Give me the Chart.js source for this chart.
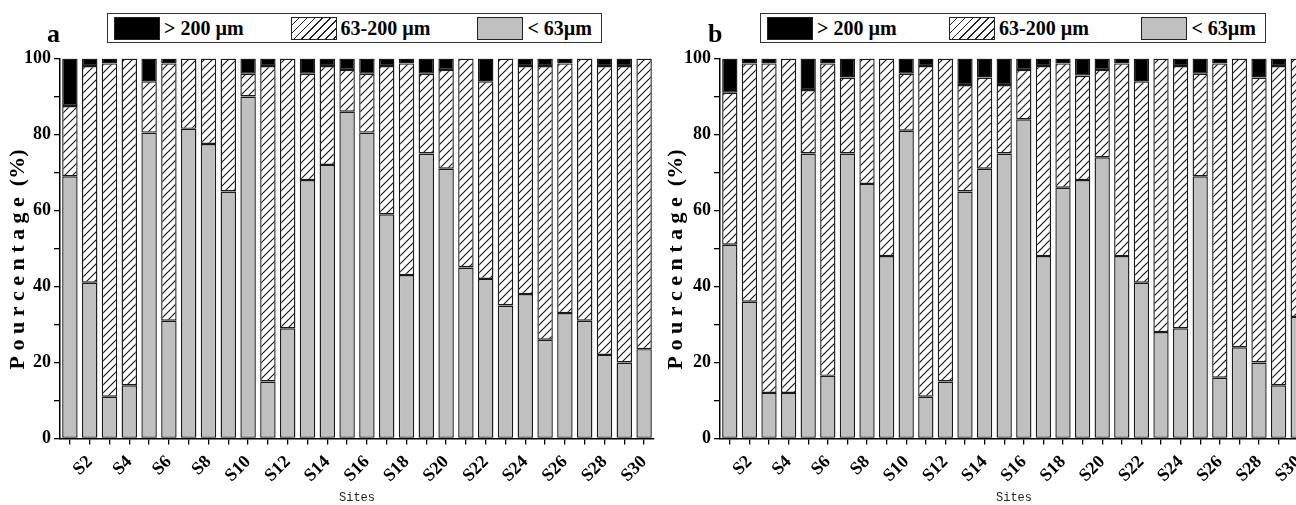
<!DOCTYPE html>
<html>
<head>
<meta charset="utf-8">
<script src="https://cdn.jsdelivr.net/npm/chart.js@4.4.1/dist/chart.umd.min.js"></script>
<style>
    body { margin: 0; background: #fff; overflow: hidden; }
    #wrap { position: relative; width: 1296px; height: 505px; overflow: hidden; }
    canvas { position: absolute; top: 0; }
    #chartA { left: 0; }
    #chartB { left: 658px; }
    .tag { position: absolute; top: 22px; font: bold 26px "Liberation Serif"; line-height: 24px; }
    .legend {
        position: absolute; top: 13px; height: 30px; box-sizing: border-box;
        border: 1.5px solid #333; background: #fff;
        display: flex; align-items: center; justify-content: space-between;
        padding: 0 9px 0 6px;
        font: bold 20px "Liberation Serif";
    }
    .item { display: flex; align-items: center; }
    .box { width: 46px; height: 23px; box-sizing: border-box; border: 1.3px solid #222; margin-right: 4px; }
</style>
</head>
<body>
<div id="wrap">
    <canvas id="chartA" width="656" height="505"></canvas>
    <canvas id="chartB" width="652" height="505"></canvas>
    <div class="tag" style="left:47px">a</div>
    <div class="tag" style="left:708px">b</div>
    <div class="legend" id="legendA" style="left:107px;width:495px"></div>
    <div class="legend" id="legendB" style="left:760px;width:506px"></div>
</div>
<script>
// categories
const sites = ["S1", "S2", "S3", "S4", "S5", "S6", "S7", "S8", "S9", "S10",
    "S11", "S12", "S13", "S14", "S15", "S16", "S17", "S18", "S19", "S20",
    "S21", "S22", "S23", "S24", "S25", "S26", "S27", "S28", "S29", "S30"];
const sizeClasses = ["< 63µm", "63-200 µm", "> 200 µm"];
const yTicks = [0, 20, 40, 60, 80, 100];

// panel a (%)
const fineA = [69, 41, 11, 14, 80.5, 31, 81.5, 77.5, 65, 90, 15, 29, 68, 72, 86,
    80.5, 59, 43, 75, 71, 45, 42, 35, 38, 26, 33, 31, 22, 20, 23.5];
const sandA = [18.5, 57, 87.7, 86, 13.5, 67.7, 18.5, 22.5, 35, 6, 83, 71, 28, 26, 11,
    15.5, 39, 55.7, 21, 26, 55, 52, 65, 60, 72, 65.7, 69, 76, 78, 76.5];
const coarseA = [12.5, 2, 1.3, 0, 6, 1.3, 0, 0, 0, 4, 2, 0, 4, 2, 3,
    4, 2, 1.3, 4, 3, 0, 6, 0, 2, 2, 1.3, 0, 2, 2, 0];

// panel b (%)
const fineB = [51, 36, 12, 12, 75, 16.5, 75, 67, 48, 81, 11, 15, 65, 71, 75,
    84, 48, 66, 68, 74, 48, 41, 28, 29, 69, 16, 24, 20, 14, 32];
const sandB = [40, 62.7, 86.7, 88, 16.7, 82.2, 20, 33, 52, 15, 87, 85, 28, 24, 18,
    13, 50, 32.7, 27.5, 23, 50.7, 53, 72, 69, 27, 82.7, 76, 75, 84, 68];
const coarseB = [9, 1.3, 1.3, 0, 8.3, 1.3, 5, 0, 0, 4, 2, 0, 7, 5, 7,
    3, 2, 1.3, 4.5, 3, 1.3, 6, 0, 2, 4, 1.3, 0, 5, 2, 0];

const GRAY = "#c0c0c0";
const EDGE = "#1a1a1a";

function makeHatch() {
    const c = document.createElement("canvas");
    c.width = 8;
    c.height = 8;
    const g = c.getContext("2d");
    g.fillStyle = "#fff";
    g.fillRect(0, 0, 8, 8);
    g.strokeStyle = "#111";
    g.lineWidth = 1.1;
    g.beginPath();
    g.moveTo(-1, 9); g.lineTo(9, -1);
    g.moveTo(-1, 1); g.lineTo(1, -1);
    g.moveTo(7, 9); g.lineTo(9, 7);
    g.stroke();
    return g.createPattern(c, "repeat");
}
const hatch = makeHatch();

// html legend, top item first like the original
function buildLegend(id) {
    const el = document.getElementById(id);
    const fills = ["#000", "repeating-linear-gradient(135deg, #fff 0 4.4px, #222 4.4px 5.6px)", GRAY];
    [2, 1, 0].forEach((k, n) => {
        const item = document.createElement("div");
        item.className = "item";
        const box = document.createElement("span");
        box.className = "box";
        box.style.background = fills[n];
        item.appendChild(box);
        item.appendChild(document.createTextNode(sizeClasses[k]));
        el.appendChild(item);
    });
}

const serif = { family: "Liberation Serif", weight: "bold", size: 18 };

function buildChart(id, fine, sand, coarse, yWidth) {
    const series = [fine, sand, coarse];
    const fills = [GRAY, hatch, "#000"];
    return new Chart(document.getElementById(id), {
        type: "bar",
        data: {
            labels: sites,
            datasets: series.map((d, i) => ({
                label: sizeClasses[i],
                data: d,
                backgroundColor: fills[i],
                borderColor: EDGE,
                borderWidth: 1.4,
                borderSkipped: false,
                barPercentage: 0.78,
                categoryPercentage: 1,
            })),
        },
        options: {
            responsive: false,
            animation: false,
            layout: { padding: { top: 58.5, left: 0, right: 2, bottom: 0 } },
            plugins: {
                legend: { display: false },
                tooltip: { enabled: false },
            },
            scales: {
                x: {
                    stacked: true,
                    grid: { offset: false, drawOnChartArea: false, tickLength: 6, color: "#000", lineWidth: 1.3 },
                    border: { color: "#000", width: 1.5 },
                    ticks: {
                        autoSkip: false,
                        maxRotation: 45,
                        minRotation: 45,
                        padding: 7,
                        color: "#000",
                        font: serif,
                        callback: (v, i) => (i % 2 === 1 ? sites[i] : ""),
                    },
                    title: {
                        display: true,
                        text: "Sites",
                        color: "#222",
                        font: { family: "Liberation Mono", size: 12 },
                        padding: { top: 0, bottom: 0 },
                    },
                    afterFit: (s) => {
                        s.height = 66.5;
                        s.paddingLeft = 0;
                        s.paddingRight = 0;
                    },
                },
                y: {
                    stacked: true,
                    min: 0,
                    max: 100,
                    grid: { drawOnChartArea: false, tickLength: 6, color: "#000", lineWidth: 1.3 },
                    border: { color: "#000", width: 1.5 },
                    ticks: {
                        stepSize: 10,
                        padding: 3,
                        color: "#000",
                        font: serif,
                        callback: (v) => (yTicks.includes(v) ? v : ""),
                    },
                    title: {
                        display: true,
                        text: "P o u r c e n t a g e  (%)    ",
                        color: "#000",
                        font: { family: "Liberation Serif", weight: "bold", size: 22 },
                        padding: { top: 5, bottom: 0 },
                    },
                    afterFit: (s) => {
                        s.width = yWidth;
                        s.paddingTop = 0;
                        s.paddingBottom = 0;
                    },
                },
            },
        },
    });
}

buildLegend("legendA");
buildLegend("legendB");
buildChart("chartA", fineA, sandA, coarseA, 60);
buildChart("chartB", fineB, sandB, coarseB, 62);
</script>
</body>
</html>
